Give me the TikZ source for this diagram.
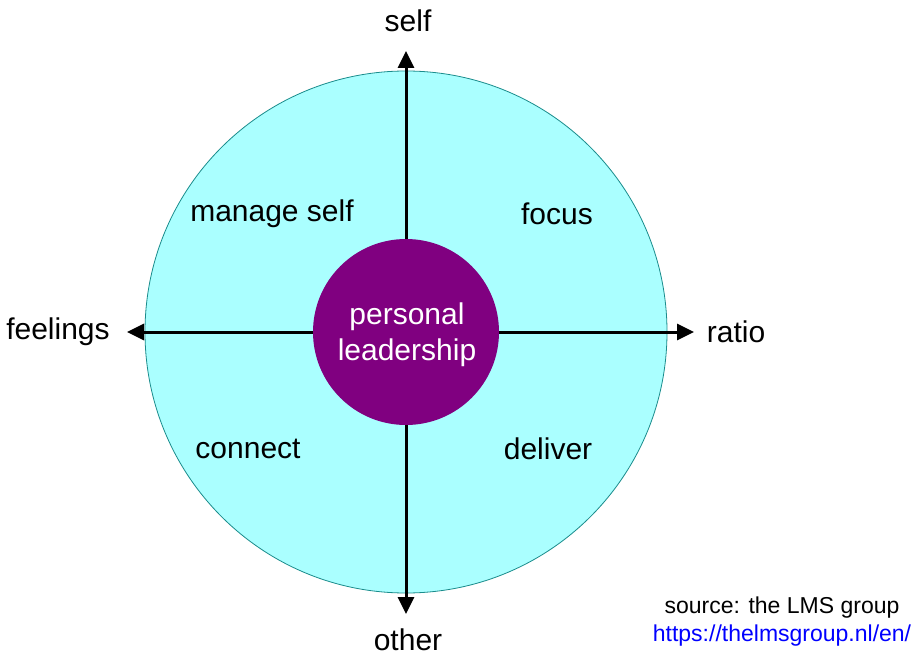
\documentclass[tikz,border=0pt]{standalone}
\usepackage{fontspec}
\setmainfont{Liberation Sans}
\usetikzlibrary{arrows.meta}
\definecolor{outerfill}{HTML}{AAFFFF}
\definecolor{outerline}{HTML}{1A8C8C}
\definecolor{innerfill}{HTML}{800080}
\definecolor{linkblue}{HTML}{0000FF}
\begin{document}
\begin{tikzpicture}[x=1pt,y=-1pt,
  lbl/.style={font=\fontsize{30}{34}\selectfont, text=black, inner sep=0pt},
  src/.style={font=\fontsize{23}{27}\selectfont, inner sep=0pt},
  axis/.style={line width=3pt, -{Triangle[length=17pt,width=16pt]}}]
\useasboundingbox[fill=white] (0,0) rectangle (920,660);
\node[circle, draw=outerline, line width=0.8pt, fill=outerfill, minimum size=522pt, inner sep=0pt] (oc) at (406,332) {};
\node[circle, fill=innerfill, minimum size=186pt, inner sep=0pt] (ic) at (406,332) {};
\node[font=\fontsize{30}{36}\selectfont, text=white, inner sep=0pt] (p1) at (407,317) {personal};
\node[font=\fontsize{30}{36}\selectfont, text=white, inner sep=0pt] (p2) at (407,353) {leadership};
\coordinate (tT) at (406,51);
\coordinate (tB) at (406,614);
\coordinate (tL) at (127,332);
\coordinate (tR) at (694,332);
\draw[axis] (ic.north) -- (tT);
\draw[axis] (ic.south) -- (tB);
\draw[axis] (ic.west) -- (tL);
\draw[axis] (ic.east) -- (tR);
\node[lbl] (self) at (408,21) {self};
\node[lbl] (other) at (408,640) {other};
\node[lbl] (feel) at (58,332) {feelings};
\node[lbl] (ratio) at (736,332) {ratio};
\node[lbl] (ms) at (272,214) {manage self};
\node[lbl] (focus) at (557,214) {focus};
\node[lbl] (conn) at (248,449) {connect};
\node[lbl] (deliv) at (548,449) {deliver};
\node[src] (s1) at (782,608) {source: the LMS group};
\node[src, text=linkblue] (s2) at (782,636) {https://thelmsgroup.nl/en/};
\end{tikzpicture}
\end{document}
